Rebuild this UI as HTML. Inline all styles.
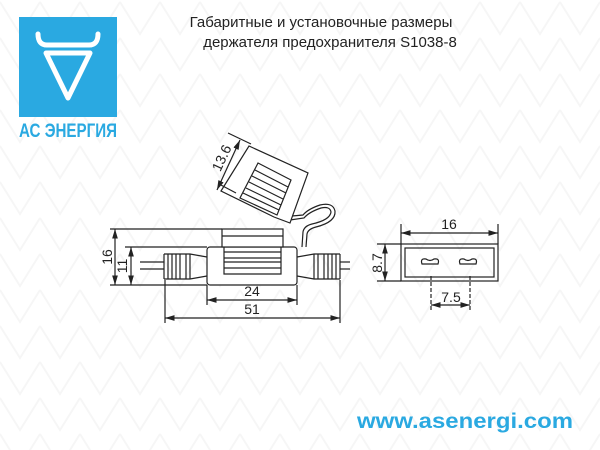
<!DOCTYPE html>
<html><head><meta charset="utf-8"><style>
body{margin:0;width:600px;height:450px;background:#fff;overflow:hidden}
svg{display:block}
</style></head><body>
<svg width="600" height="450" viewBox="0 0 600 450" xmlns="http://www.w3.org/2000/svg" font-family="Liberation Sans, sans-serif">
<defs>
<pattern id="bg" width="40" height="36" patternUnits="userSpaceOnUse">
<path d="M0 2 L20 34 L40 2" fill="none" stroke="#f6f6f6" stroke-width="2"/>
</pattern>
<marker id="a" viewBox="0 0 10 6" refX="10" refY="3" markerWidth="8" markerHeight="5" orient="auto-start-reverse"><path d="M0 0 L10 3 L0 6 z" fill="#222"/></marker>
</defs>
<rect width="600" height="450" fill="url(#bg)"/>
<!-- logo -->
<rect x="19" y="17" width="98" height="100" fill="#2aa9e1"/>
<path d="M38 34 Q38 45 47 45 L89 45 Q98 45 98 34" fill="none" stroke="#fff" stroke-width="5" stroke-linecap="round"/>
<path d="M46 53 L90 53 L68 98 Z" fill="none" stroke="#fff" stroke-width="5" stroke-linejoin="round"/>
<text x="19" y="137" font-size="19" font-weight="bold" fill="#2aa9e1" textLength="98" lengthAdjust="spacingAndGlyphs">АС ЭНЕРГИЯ</text>
<!-- title -->
<text x="321" y="27" font-size="15" text-anchor="middle" fill="#222">Габаритные и установочные размеры</text>
<text x="330" y="47" font-size="15" text-anchor="middle" fill="#222">держателя предохранителя S1038-8</text>
<g stroke="#222" stroke-width="1.2" fill="none">
<line x1="140" y1="262" x2="164" y2="262"/><line x1="140" y1="269" x2="164" y2="269"/>
<line x1="340" y1="262" x2="350" y2="262"/><line x1="340" y1="269" x2="350" y2="269"/>
<path d="M164 254 L190 254 L207 257 M164 279 L190 279 L207 276"/>
<line x1="164" y1="254" x2="164" y2="279"/>
<line x1="168" y1="254" x2="168" y2="279"/><line x1="172" y1="254" x2="172" y2="279"/><line x1="176" y1="254" x2="176" y2="279"/><line x1="180" y1="254" x2="180" y2="279"/><line x1="186" y1="254" x2="186" y2="279"/><line x1="190" y1="254" x2="190" y2="279"/>
<path d="M340 254 L314 254 L297 257 M340 279 L314 279 L297 276"/>
<line x1="340" y1="254" x2="340" y2="279"/>
<line x1="336" y1="254" x2="336" y2="279"/><line x1="332" y1="254" x2="332" y2="279"/><line x1="328" y1="254" x2="328" y2="279"/><line x1="324" y1="254" x2="324" y2="279"/><line x1="318" y1="254" x2="318" y2="279"/><line x1="314" y1="254" x2="314" y2="279"/>
<rect x="207" y="247" width="90" height="38" rx="3" fill="#fff"/>
<rect x="222" y="229" width="61" height="18" fill="#fff"/>
<line x1="222" y1="236" x2="283" y2="236"/>
<path d="M224 247 L224 274 L281 274 L281 247"/>
<line x1="224" y1="252" x2="281" y2="252"/><line x1="224" y1="258" x2="281" y2="258"/><line x1="224" y1="262" x2="281" y2="262"/><line x1="224" y1="268" x2="281" y2="268"/>
<path d="M302 247 L303 232 Q304 226 312 224 Q330 220 331 212 Q330 206 321 208 Q309 212 304 218 L290 220"/>
<path d="M306 247 L307 234 Q308 229 316 227 Q336 222 335 211 Q333 202 320 205 Q308 209 303 215 L292 216"/>
<path d="M221 191 L249 146 L308 173 L290 223 L274 217 Z" fill="#fff"/>
<path d="M258 163 L291 180 L277 215 L240 198 Z"/>
<line x1="255" y1="170" x2="288" y2="187"/><line x1="252" y1="176" x2="286" y2="193"/><line x1="249" y1="182" x2="283" y2="199"/><line x1="246" y1="188" x2="281" y2="205"/><line x1="243" y1="193" x2="279" y2="210"/>
<line x1="219" y1="184" x2="236" y2="193"/><line x1="228" y1="133" x2="251" y2="144"/>
<line x1="217" y1="190" x2="240" y2="140" marker-start="url(#a)" marker-end="url(#a)"/>
<line x1="110" y1="229" x2="222" y2="229"/><line x1="110" y1="285" x2="207" y2="285"/>
<line x1="125" y1="247" x2="207" y2="247"/>
<line x1="115" y1="229" x2="115" y2="285" marker-start="url(#a)" marker-end="url(#a)"/>
<line x1="131" y1="247" x2="131" y2="285" marker-start="url(#a)" marker-end="url(#a)"/>
<line x1="207" y1="285" x2="207" y2="305"/><line x1="297" y1="285" x2="297" y2="305"/>
<line x1="165" y1="280" x2="165" y2="323"/><line x1="340" y1="280" x2="340" y2="323"/>
<line x1="207" y1="300" x2="297" y2="300" marker-start="url(#a)" marker-end="url(#a)"/>
<line x1="165" y1="318" x2="340" y2="318" marker-start="url(#a)" marker-end="url(#a)"/>
<rect x="401" y="244" width="97" height="37"/>
<rect x="405" y="248" width="89" height="29"/>
<path d="M422 264 Q420 258 426 259 Q430 262 434 259 Q440 258 438 264 Z"/>
<path d="M460 264 Q458 258 464 259 Q468 262 472 259 Q478 258 476 264 Z"/>
<line x1="401" y1="224" x2="401" y2="244"/><line x1="498" y1="224" x2="498" y2="244"/>
<line x1="401" y1="233" x2="498" y2="233" marker-start="url(#a)" marker-end="url(#a)"/>
<line x1="377" y1="244" x2="401" y2="244"/><line x1="377" y1="281" x2="401" y2="281"/>
<line x1="385" y1="244" x2="385" y2="281" marker-start="url(#a)" marker-end="url(#a)"/>
<line x1="431" y1="276" x2="431" y2="311" stroke-dasharray="4 2"/><line x1="470" y1="276" x2="470" y2="311" stroke-dasharray="4 2"/>
<line x1="431" y1="305" x2="470" y2="305" marker-start="url(#a)" marker-end="url(#a)"/>
</g>
<g font-size="14" fill="#222" text-anchor="middle">
<text x="252" y="296">24</text>
<text x="252" y="314">51</text>
<text x="449" y="229">16</text>
<text x="451" y="302">7.5</text>
<text transform="translate(112,257) rotate(-90)">16</text>
<text transform="translate(127,266) rotate(-90)">11</text>
<text transform="translate(382,263) rotate(-90)">8.7</text>
<text transform="translate(226,160) rotate(-65)">13.6</text>
</g>
<text x="357" y="428" font-size="21" font-weight="bold" fill="#2aa9e1" textLength="216" lengthAdjust="spacingAndGlyphs">www.asenergi.com</text>
</svg>
</body></html>
